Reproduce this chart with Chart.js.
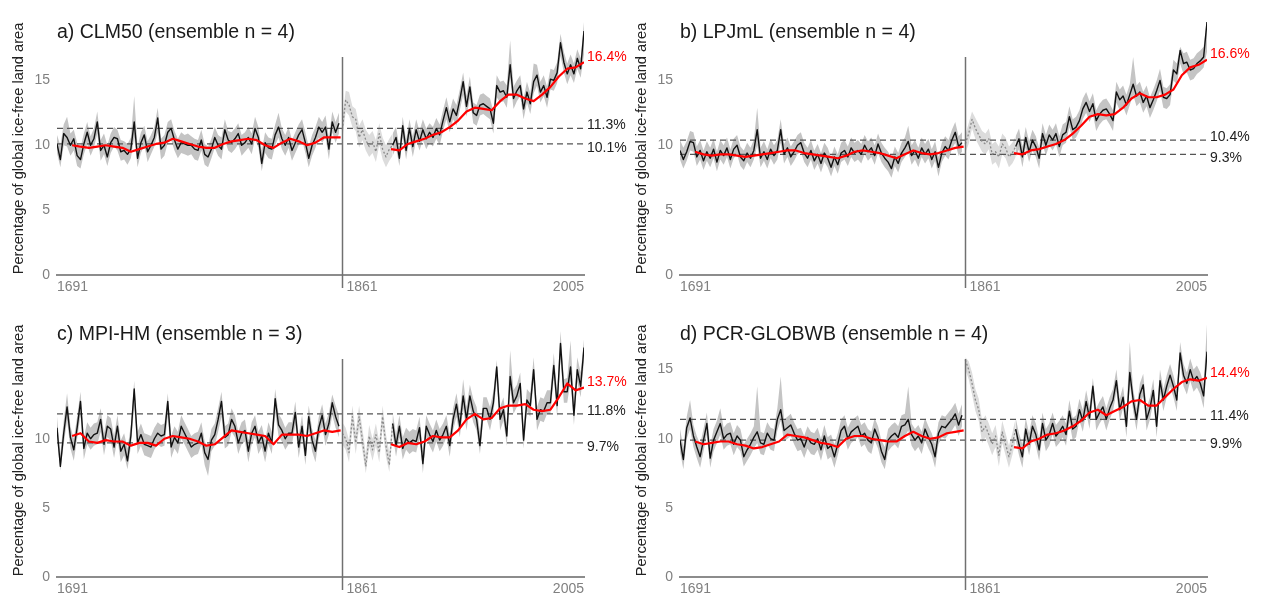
<!DOCTYPE html>
<html>
<head>
<meta charset="utf-8">
<script src="https://cdn.jsdelivr.net/npm/chart.js@4.4.1/dist/chart.umd.min.js"></script>
<style>
  body{margin:0;background:#fff;width:1261px;height:599px;position:relative;overflow:hidden}
  .panel{position:absolute;width:638px;height:300px}
</style>
</head>
<body>
<div class="panel" style="left:0;top:0"><canvas id="pa"></canvas></div>
<div class="panel" style="left:623px;top:0"><canvas id="pb"></canvas></div>
<div class="panel" style="left:0;top:302px"><canvas id="pc"></canvas></div>
<div class="panel" style="left:623px;top:302px"><canvas id="pd"></canvas></div>
<script>
// years: every 2nd year 1691..2005 (idx 0-84 pre-1861, 85-99 spin-up, 100-157 1891-2005)
const YEARS = [];
for (let y = 1691; y <= 2005; y += 2) YEARS.push(y);
const SMOOTH_YEARS_PRE = [];
for (let y = 1700; y <= 1860; y += 5) SMOOTH_YEARS_PRE.push(y);
const SMOOTH_YEARS_POST = [];
for (let y = 1890; y <= 2005; y += 5) SMOOTH_YEARS_POST.push(y);

const X_TICKS = [1691, 1861, 2005];
const TITLES = ['a) CLM50 (ensemble n = 4)', 'b) LPJmL (ensemble n = 4)',
                'c) MPI-HM (ensemble n = 3)', 'd) PCR-GLOBWB (ensemble n = 4)'];
const Y_TITLE = 'Percentage of global ice-free land area';

// ---- a) CLM50
const CLM50_MEAN = [
  10.1,8.9,10.9,10.6,10.0,10.5,9.2,8.9,10.1,11.0, 10.0,10.5,11.8,9.6,10.0,9.1,10.2,10.6,10.5,9.5,
  9.6,9.3,9.7,11.8,9.0,10.2,10.8,9.5,10.0,10.6, 12.1,9.7,10.0,11.0,11.3,10.4,9.7,10.2,10.1,10.0,
  10.0,9.7,9.6,10.4,9.3,9.1,9.7,10.6,10.0,9.7, 11.2,10.4,10.2,10.5,10.9,10.0,10.2,10.6,10.1,11.3,
  10.6,8.6,10.2,9.8,9.7,10.8,11.4,10.5,10.0,10.6, 9.6,10.2,10.8,11.2,10.2,9.0,10.0,10.6,11.4,11.0,
  11.4,9.7,11.8,11.0,11.7,
  11.2,13.5,13.1,12.2,12.0,10.6,11.2,10.4,9.9,10.3,9.5,10.9,9.7,9.1,9.7,
  10.0,10.6,9.0,11.5,9.6,11.3,9.9,11.2,10.3,11.2, 10.5,11.0,10.6,11.3,10.8,11.9,12.9,11.8,12.8,12.3,
  13.5,14.9,13.0,14.5,12.5,12.3,13.1,13.2,13.0,12.8, 11.7,14.6,14.1,14.2,13.7,16.2,13.6,14.2,14.6,12.8,
  14.1,13.2,14.9,15.4,14.1,14.6,13.7,15.1,15.0,15.6, 17.9,16.4,15.5,16.2,15.5,16.7,15.9,18.8
];
const CLM50_MAX = [
  10.8,10.0,11.6,12.2,10.9,11.2,10.2,9.8,10.9,11.8, 10.7,11.3,12.6,10.4,10.9,10.0,10.9,11.4,11.2,10.4,
  10.3,10.1,10.6,13.8,9.9,11.0,11.5,10.3,10.8,11.4, 12.9,10.5,10.8,11.8,12.0,11.1,10.5,11.0,10.8,10.9,
  10.7,10.5,10.4,11.2,10.1,9.9,10.5,11.4,10.8,10.6, 12.0,11.1,11.0,11.3,11.7,10.8,11.0,11.4,10.9,12.2,
  11.4,9.6,11.0,10.6,10.5,11.6,12.5,11.3,10.8,11.4, 10.4,11.0,11.6,12.0,11.0,9.9,10.8,11.4,12.2,11.8,
  12.3,10.6,12.6,11.8,12.5,
  12.0,14.2,14.1,13.0,12.8,11.5,12.0,11.2,10.8,11.1,10.4,11.7,10.6,10.0,10.5,
  10.9,11.4,9.9,12.2,10.4,12.0,10.7,12.0,11.1,12.0, 11.3,11.7,11.4,12.1,11.6,12.7,13.7,12.6,13.6,13.1,
  14.3,15.6,13.8,15.3,13.3,13.1,13.9,14.0,13.8,13.6, 12.6,15.4,14.9,15.0,14.6,18.1,14.5,15.0,15.4,13.6,
  14.9,14.0,16.3,16.2,14.9,15.4,14.5,15.9,15.8,16.4, 18.6,17.2,16.3,17.0,16.3,17.4,16.7,19.5
];
const CLM50_MIN = [
  9.4,8.3,10.0,9.9,9.2,9.6,8.4,8.2,9.3,10.1, 9.2,9.8,10.9,8.8,9.3,8.4,9.4,9.9,9.6,8.8,
  8.9,8.5,9.0,10.6,8.3,9.4,10.0,8.7,9.3,9.9, 11.0,8.9,9.2,10.2,10.4,9.6,9.0,9.4,9.3,9.2,
  9.3,8.9,8.8,9.6,8.5,8.3,9.0,9.8,9.2,8.9, 10.4,9.6,9.4,9.7,10.1,9.2,9.5,9.8,9.3,10.5,
  9.8,8.0,9.4,9.0,8.9,10.0,10.6,9.7,9.2,9.8, 8.8,9.4,10.0,10.4,9.4,8.3,9.2,9.8,10.6,10.2,
  10.6,8.9,11.0,10.2,10.9,
  10.4,12.6,12.3,11.4,11.1,9.8,10.4,9.6,9.1,9.4,8.7,10.0,8.9,8.3,8.8,
  9.2,9.8,8.4,10.6,8.9,10.5,9.1,10.4,9.6,10.4, 9.7,10.2,9.9,10.5,10.0,11.1,12.0,11.0,12.0,11.5,
  12.7,13.9,12.2,13.6,11.7,11.5,12.3,12.4,12.2,12.0, 10.9,13.7,13.3,13.4,12.9,15.2,12.8,13.4,13.8,12.0,
  13.3,12.4,14.0,14.6,13.3,13.8,12.9,14.3,14.2,14.8, 16.9,15.6,14.7,15.4,14.8,15.9,15.2,17.0
];
const CLM50_SMOOTH_PRE = [10.0,9.9,9.8,9.9,10.0,9.9,9.8,9.5,9.7,9.9,10.1,10.2,10.5,10.3,10.1,9.9,9.8,
  9.8,10.1,10.3,10.4,10.5,10.4,10.0,9.8,10.2,10.5,10.3,10.0,10.2,10.6,10.6,10.6];
const CLM50_SMOOTH_POST = [9.7,9.6,10.1,10.3,10.5,10.8,11.0,11.4,11.9,12.6,12.9,12.8,12.7,13.4,13.9,13.9,
  13.6,13.4,13.9,14.5,15.3,15.9,16.0,16.4];
const CLM50_REF = [11.3, 10.1];

// ---- b) LPJmL
const LPJML_MEAN = [
  9.6,8.9,9.5,10.3,10.2,9.1,9.6,8.8,9.5,9.0, 9.7,8.7,9.6,9.2,9.8,8.9,9.7,10.0,9.1,8.8,
  9.4,9.0,9.6,11.2,9.0,9.5,8.9,9.7,9.2,9.6, 11.2,9.3,9.8,9.1,9.5,10.0,10.2,9.4,9.0,9.6,
  8.8,9.3,8.6,9.4,9.0,8.3,9.1,8.5,9.4,9.6, 9.1,9.8,9.4,9.6,9.3,10.0,9.5,9.8,9.2,10.1,
  9.4,9.0,8.7,8.2,9.1,8.6,9.4,9.8,10.3,9.2, 9.6,9.0,9.8,9.3,9.7,8.9,9.5,8.3,9.4,9.9,
  9.6,10.4,11.0,9.9,10.2,
  10.1,10.9,12.0,11.3,10.8,10.3,10.1,10.5,9.3,9.5,9.1,10.1,9.8,9.1,9.4,
  9.9,10.5,9.1,10.6,9.5,10.4,9.9,9.0,10.9,10.0, 10.8,10.4,10.9,9.9,10.8,11.0,12.2,11.2,11.4,11.9,
  12.8,13.3,12.6,13.2,11.9,12.4,12.7,12.8,12.4,11.9, 14.1,13.5,13.8,13.1,13.9,14.7,13.8,14.1,13.3,13.8,
  12.9,13.5,14.2,15.0,13.7,13.6,13.9,15.8,15.5,17.3, 16.3,16.4,15.8,15.9,16.3,16.5,16.8,19.5
];
const LPJML_MAX = [
  10.4,9.8,10.3,11.1,11.0,9.9,10.4,9.6,10.3,9.8, 10.5,9.5,10.4,10.0,10.6,9.7,10.5,10.8,9.9,9.6,
  10.2,9.8,10.4,12.9,9.8,10.3,9.7,10.5,10.0,10.4, 12.0,10.1,10.6,9.9,10.3,10.8,11.0,10.2,9.8,10.4,
  9.6,10.1,9.4,10.2,9.8,9.1,9.9,9.3,10.2,10.4, 9.9,10.6,10.2,10.4,10.1,10.8,10.3,10.6,10.0,10.9,
  10.2,9.8,9.5,9.0,9.9,9.4,10.2,10.6,11.5,10.0, 10.4,9.8,10.6,10.1,10.5,9.7,10.3,9.1,10.2,10.7,
  10.4,11.2,11.8,10.7,11.0,
  10.8,11.7,12.6,12.1,11.6,11.1,10.9,11.3,10.1,10.3,9.9,10.9,10.6,9.9,10.2,
  10.7,11.3,9.9,11.4,10.3,11.2,10.7,9.8,11.7,10.8, 11.6,11.2,11.7,10.7,11.6,11.8,13.0,12.0,12.2,12.7,
  13.6,14.1,13.4,14.0,12.7,13.2,13.5,13.6,13.2,12.7, 14.9,14.3,14.6,13.9,14.7,16.8,14.6,14.9,14.1,14.6,
  13.7,14.3,15.0,15.9,14.5,14.4,14.7,16.6,16.3,17.6, 17.1,17.2,16.6,16.7,17.1,17.3,17.6,19.8
];
const LPJML_MIN = [
  8.9,8.2,8.8,9.6,9.5,8.4,8.9,8.1,8.8,8.3, 9.0,8.0,8.9,8.5,9.1,8.2,9.0,9.3,8.4,8.1,
  8.7,8.3,8.9,10.0,8.3,8.8,8.2,9.0,8.5,8.9, 10.2,8.6,9.1,8.4,8.8,9.3,9.5,8.7,8.3,8.9,
  8.1,8.6,7.9,8.7,8.3,7.6,8.4,7.8,8.7,8.9, 8.4,9.1,8.7,8.9,8.6,9.3,8.8,9.1,8.5,9.4,
  8.7,8.3,8.0,7.5,8.4,7.9,8.7,9.1,9.5,8.5, 8.9,8.3,9.1,8.6,9.0,8.2,8.8,7.6,8.7,9.2,
  8.9,9.7,10.2,9.2,9.5,
  9.4,10.1,11.3,10.5,10.0,9.5,9.3,9.7,8.5,8.7,8.2,9.3,9.0,8.3,8.6,
  9.1,9.7,8.3,9.8,8.7,9.6,9.1,8.2,10.1,9.2, 10.0,9.6,10.1,9.1,10.0,10.2,11.4,10.4,10.6,11.1,
  12.0,12.5,11.8,12.4,11.1,11.6,11.9,12.0,11.6,11.1, 13.3,12.7,13.0,12.3,13.1,13.9,13.0,13.3,12.5,13.0,
  12.1,12.7,13.4,14.2,12.9,12.8,13.1,15.0,14.7,16.3, 15.5,15.6,15.0,15.1,15.5,15.7,16.0,17.2
];
const LPJML_SMOOTH_PRE = [9.5,9.3,9.2,9.3,9.3,9.2,9.1,9.2,9.3,9.4,9.5,9.6,9.6,9.4,9.3,9.2,9.1,
  9.0,9.2,9.5,9.6,9.5,9.4,9.2,9.0,9.3,9.6,9.4,9.3,9.4,9.6,9.8,9.9];
const LPJML_SMOOTH_POST = [9.4,9.3,9.6,9.7,9.9,10.1,10.4,10.9,11.5,12.2,12.4,12.3,12.4,12.9,13.6,14.0,
  13.7,13.7,13.9,14.3,15.4,16.0,16.2,16.6];
const LPJML_REF = [10.4, 9.3];

// ---- c) MPI-HM
const MPIHM_MEAN = [
  10.8,8.0,10.4,12.3,10.1,9.2,10.8,12.7,9.3,10.4, 10.0,10.3,10.4,11.4,9.6,10.9,10.7,9.4,10.9,9.1,
  9.6,8.4,10.2,13.6,9.7,10.3,9.6,9.5,9.4,10.0, 10.4,10.2,10.3,12.7,9.4,10.1,9.7,10.9,10.4,9.9,
  9.4,9.6,9.7,10.4,9.0,8.5,9.9,10.3,11.4,12.7, 10.1,10.3,11.4,10.9,9.7,10.4,10.6,9.1,10.4,10.9,
  9.7,10.2,9.1,10.4,9.7,12.9,11.0,10.6,10.0,10.4, 10.4,11.9,9.4,10.9,8.8,11.6,9.9,9.1,10.8,11.7,
  10.3,11.1,12.6,11.6,10.9,
  10.4,10.0,9.0,11.6,9.7,11.6,9.9,8.0,10.2,9.2,10.3,9.0,11.6,9.5,8.1,
  11.1,9.5,10.9,9.3,10.0,9.7,9.9,9.8,10.8,8.2, 10.9,10.3,9.8,10.6,9.9,10.3,10.9,9.5,11.4,12.5,
  10.9,13.1,11.4,13.1,12.0,11.4,9.5,12.2,12.2,11.4, 12.6,15.2,11.4,12.1,10.2,14.5,12.6,13.1,14.0,9.9,
  12.8,12.4,15.0,11.4,12.1,12.0,12.6,12.6,15.3,12.4, 16.9,13.4,13.4,15.2,11.7,15.0,13.8,16.6
];
const MPIHM_MAX = [
  11.6,8.9,11.3,13.3,10.9,10.0,11.6,13.4,10.1,11.2, 10.8,11.1,11.2,12.2,10.4,11.7,11.5,10.2,11.7,9.9,
  10.4,9.3,11.0,14.2,10.5,11.1,10.4,10.3,10.2,10.8, 11.2,11.0,11.1,13.3,10.2,10.9,10.5,11.7,11.2,10.7,
  10.2,10.4,10.5,11.2,9.8,9.4,10.7,11.1,12.2,13.4, 10.9,11.1,12.2,11.7,10.5,11.2,11.4,9.9,11.2,11.7,
  10.5,11.0,9.9,11.2,10.5,13.6,11.8,11.4,10.8,11.2, 11.2,12.7,10.2,11.7,9.7,12.4,10.7,9.9,11.6,12.5,
  11.1,11.9,13.2,12.4,11.7,
  11.2,10.8,9.9,12.4,10.5,12.4,10.7,8.9,11.0,10.0,11.1,9.8,12.4,10.3,9.0,
  11.9,10.3,11.7,10.1,10.8,10.5,10.7,10.6,11.6,9.1, 11.7,11.1,10.6,11.4,10.7,11.1,11.7,10.3,12.2,13.3,
  11.8,14.3,12.3,13.9,12.9,12.3,10.5,13.0,13.0,12.3, 13.4,15.7,12.3,13.0,11.1,16.4,13.5,13.9,14.8,10.9,
  13.6,13.3,15.9,12.3,13.0,12.9,13.5,13.5,16.2,13.3, 17.8,14.3,14.4,17.1,12.7,15.9,14.8,17.2
];
const MPIHM_MIN = [
  10.0,7.7,9.6,11.3,9.3,8.4,10.0,11.7,8.5,9.6, 9.2,9.5,9.6,10.5,8.8,10.1,9.9,8.6,10.0,8.3,
  8.8,7.8,9.4,12.4,8.9,9.5,8.8,8.7,8.6,9.2, 9.6,9.4,9.5,11.6,8.6,9.3,8.9,10.0,9.6,9.1,
  8.6,8.8,8.9,9.6,8.1,7.3,9.1,9.5,10.5,11.6, 9.3,9.5,10.5,10.1,8.9,9.6,9.8,8.3,9.6,10.1,
  8.9,9.4,8.3,9.6,8.9,11.9,10.2,9.8,9.2,9.6, 9.6,11.0,8.6,10.1,8.1,10.7,9.1,8.3,10.0,10.9,
  9.5,10.3,11.7,10.8,10.1,
  9.6,9.2,8.3,10.8,8.9,10.8,9.1,7.5,9.4,8.4,9.5,8.3,10.8,8.7,7.6,
  10.3,8.7,10.1,8.5,9.2,8.9,9.1,9.0,10.0,7.5, 10.1,9.5,9.0,9.8,9.1,9.5,10.1,8.7,10.6,11.6,
  10.1,12.2,10.6,12.3,11.2,10.6,8.9,11.4,11.4,10.6, 11.8,14.2,10.6,11.3,9.5,13.6,11.8,12.3,13.1,9.3,
  12.0,11.6,14.1,10.6,11.3,11.2,11.8,11.8,14.4,11.6, 15.8,12.6,12.6,14.2,11.0,14.1,13.0,15.6
];
const MPIHM_SMOOTH_PRE = [10.2,10.4,9.8,9.7,9.9,9.8,9.8,9.5,9.7,9.7,9.5,10.0,10.2,10.1,10.0,9.8,9.5,
  9.6,10.1,10.6,10.5,10.4,10.3,10.2,9.6,10.3,10.3,10.3,10.2,10.4,10.6,10.5,10.6];
const MPIHM_SMOOTH_POST = [9.6,9.4,9.7,9.6,9.8,10.2,10.1,10.1,10.6,11.4,11.8,11.4,11.5,12.2,12.4,12.4,
  12.5,12.1,12.0,12.1,13.0,14.0,13.5,13.7];
const MPIHM_REF = [11.8, 9.7];

// ---- d) PCR-GLOBWB
const PCR_MEAN = [
  9.9,8.5,10.8,11.5,10.2,9.4,8.7,9.9,11.1,8.6, 9.9,10.5,11.1,10.0,10.3,10.4,9.6,10.2,9.9,8.7,
  9.2,9.6,10.1,10.5,9.7,9.6,10.4,10.0,9.9,11.4, 12.1,10.6,10.8,11.0,10.4,9.9,10.0,9.4,10.1,9.7,
  9.6,10.0,9.2,10.2,9.3,9.5,8.7,9.6,10.6,10.9, 10.0,10.5,10.7,10.9,10.2,10.4,9.9,9.7,10.7,10.1,
  9.1,8.5,9.9,10.2,10.4,10.1,10.9,11.0,11.4,10.3, 9.9,10.2,9.7,10.7,10.1,9.6,8.7,10.4,10.9,10.8,
  11.1,11.4,11.8,11.0,11.7,
  15.7,15.0,14.0,12.8,12.1,10.5,10.9,10.3,9.6,10.2,8.8,10.5,9.6,8.7,9.6,
  10.7,9.6,8.7,10.7,9.6,10.9,10.3,9.2,11.1,9.9, 10.3,11.1,10.2,10.5,10.9,10.3,12.0,10.7,10.9,12.1,
  11.3,12.7,11.5,13.8,11.4,11.9,12.3,11.4,12.2,12.8, 14.2,12.1,13.0,10.9,14.8,12.8,11.4,13.2,13.9,11.4,
  12.2,13.5,10.9,14.2,12.8,13.8,14.6,13.8,12.8,16.2, 14.6,14.0,15.0,14.2,14.5,14.0,13.1,16.3
];
const PCR_MAX = [
  10.7,9.4,11.6,12.8,11.0,10.2,9.6,10.7,11.9,9.5, 10.7,11.3,12.2,10.8,11.1,11.2,10.4,11.0,10.7,9.6,
  10.0,10.4,10.9,13.8,10.5,10.4,11.2,10.8,10.7,12.2, 14.5,11.4,11.6,11.8,11.2,10.7,10.8,10.2,10.9,10.5,
  10.4,10.8,10.0,11.0,10.1,10.3,9.6,10.4,11.4,11.7, 10.8,11.3,11.5,11.7,11.0,11.2,10.7,10.5,11.5,10.9,
  9.9,9.4,10.7,11.0,11.2,10.9,11.7,11.8,13.8,11.1, 10.7,11.0,10.5,11.5,10.9,10.4,9.6,11.2,11.7,11.6,
  11.9,12.2,12.6,11.8,12.5,
  15.9,15.6,14.8,13.6,12.9,11.3,11.7,11.1,10.4,11.0,9.6,11.3,10.4,9.5,10.4,
  11.5,10.4,9.6,11.5,10.4,11.7,11.1,10.0,11.9,10.7, 11.1,11.9,11.0,11.3,11.7,11.1,12.8,11.5,11.7,12.9,
  12.1,13.5,12.3,14.4,12.2,12.7,13.1,12.2,13.0,13.6, 15.0,12.9,13.8,11.8,17.0,13.6,12.2,14.0,14.7,12.2,
  13.0,14.3,11.8,15.0,13.6,14.6,15.4,14.6,13.6,17.0, 15.4,14.8,15.8,15.0,15.3,14.8,14.0,18.3
];
const PCR_MIN = [
  9.1,7.8,10.0,10.7,9.4,8.6,7.9,9.1,10.3,7.9, 9.1,9.7,10.3,9.2,9.5,9.6,8.8,9.4,9.1,8.0,
  8.4,8.8,9.3,9.7,8.9,8.8,9.6,9.2,9.1,10.6, 11.3,9.8,10.0,10.2,9.6,9.1,9.2,8.6,9.3,8.9,
  8.8,9.2,8.4,9.4,8.5,8.7,7.9,8.8,9.8,10.1, 9.2,9.7,9.9,10.1,9.4,9.6,9.1,8.9,9.9,9.3,
  8.3,7.8,9.1,9.4,9.6,9.3,10.1,10.2,10.6,9.5, 9.1,9.4,8.9,9.9,9.3,8.8,7.9,9.6,10.1,10.0,
  10.3,10.6,11.0,10.2,10.9,
  15.0,14.3,13.2,12.0,11.3,9.7,10.1,9.5,8.8,9.4,8.0,9.7,8.8,7.9,8.8,
  9.9,8.8,7.9,9.9,8.8,10.1,9.5,8.4,10.3,9.1, 9.5,10.3,9.4,9.7,10.1,9.5,11.2,9.9,10.1,11.3,
  10.5,11.9,10.7,13.0,10.6,11.1,11.5,10.6,11.4,12.0, 13.4,11.3,12.2,10.1,14.0,12.0,10.6,12.4,13.1,10.6,
  11.4,12.7,10.1,13.4,12.0,13.0,13.8,13.0,12.0,15.4, 13.8,13.2,14.2,13.4,13.7,13.2,12.2,15.5
];
const PCR_SMOOTH_PRE = [9.8,9.6,9.7,9.8,9.8,9.6,9.5,9.3,9.4,9.6,9.8,10.3,10.2,10.1,9.9,9.7,9.6,
  9.4,10.0,10.2,10.2,10.0,9.9,9.8,9.8,10.2,10.5,10.2,10.0,10.1,10.4,10.5,10.6];
const PCR_SMOOTH_POST = [9.4,9.3,9.8,10.0,10.3,10.4,10.6,10.9,11.3,11.9,12.1,11.7,12.0,12.3,12.7,12.8,
  12.4,12.4,13.0,13.6,14.1,14.3,14.2,14.4];
const PCR_REF = [11.4, 9.9];

const Y_TICKS = [[0,5,10,15],[0,5,10,15],[0,5,10],[0,5,10,15]];
const Y_MAX = [19.5, 19.5, 18.3, 18.3];

// sanity check on array lengths
[['CLM50', CLM50_MEAN, CLM50_MAX, CLM50_MIN, CLM50_SMOOTH_PRE, CLM50_SMOOTH_POST],
 ['LPJML', LPJML_MEAN, LPJML_MAX, LPJML_MIN, LPJML_SMOOTH_PRE, LPJML_SMOOTH_POST],
 ['MPIHM', MPIHM_MEAN, MPIHM_MAX, MPIHM_MIN, MPIHM_SMOOTH_PRE, MPIHM_SMOOTH_POST],
 ['PCR', PCR_MEAN, PCR_MAX, PCR_MIN, PCR_SMOOTH_PRE, PCR_SMOOTH_POST]].forEach(r => {
  const want = [YEARS.length, YEARS.length, YEARS.length, SMOOTH_YEARS_PRE.length, SMOOTH_YEARS_POST.length];
  for (let k = 0; k < 5; k++) if (r[k+1].length !== want[k]) throw new Error(r[0] + ' array ' + k + ' len ' + r[k+1].length + ' != ' + want[k]);
});

const FONT = '"Liberation Sans", Arial, Helvetica, sans-serif';
Chart.defaults.font.family = FONT;
Chart.defaults.animation = false;

const PRE = [0, 84], SPIN = [85, 100], POST = [100, YEARS.length - 1];

function pts(arr, r) {
  const out = [];
  for (let i = r[0]; i <= r[1]; i++) out.push({x: YEARS[i], y: arr[i]});
  return out;
}
function smoothPts(years, arr) { return years.map((y, i) => ({x: y, y: arr[i]})); }

const decor = {
  id: 'decor',
  afterDraw(chart, args, o) {
    const {ctx, chartArea: a, scales: {x, y}} = chart;
    ctx.save();
    const vx = Math.round(x.getPixelForValue(X_TICKS[1])) + 0.5;
    ctx.strokeStyle = '#707070';
    ctx.lineWidth = 1.5;
    ctx.beginPath(); ctx.moveTo(vx, a.top + 35); ctx.lineTo(vx, a.bottom + 13); ctx.stroke();

    ctx.textBaseline = 'middle';
    ctx.textAlign = 'left';
    ctx.fillStyle = '#1a1a1a';
    ctx.font = '19.5px ' + FONT;
    ctx.fillText(o.title, a.left, a.top + 11);

    ctx.font = '14px ' + FONT;
    ctx.fillStyle = '#808080';
    ctx.fillText(String(X_TICKS[0]), x.getPixelForValue(X_TICKS[0]), a.bottom + 12);
    ctx.fillText(String(X_TICKS[1]), vx + 4, a.bottom + 12);
    ctx.textAlign = 'right';
    ctx.fillText(String(X_TICKS[2]), x.getPixelForValue(X_TICKS[2]), a.bottom + 12);

    ctx.textAlign = 'left';
    const lx = a.right + 3;
    ctx.fillStyle = '#ff0000';
    ctx.fillText(o.last.toFixed(1) + '%', lx, y.getPixelForValue(o.last) - 5);
    ctx.fillStyle = '#222';
    ctx.fillText(o.ref[0].toFixed(1) + '%', lx, y.getPixelForValue(o.ref[0]) - 3);
    ctx.fillText(o.ref[1].toFixed(1) + '%', lx, y.getPixelForValue(o.ref[1]) + 4);
    ctx.restore();
  }
};

function makePanel(id, k, mean, max, min, smPre, smPost, ref) {
  const line = (data, color, w, extra) => Object.assign({data, borderColor: color, borderWidth: w,
    pointRadius: 0, fill: false, tension: 0, borderJoinStyle: 'round'}, extra || {});
  const band = (r, col) => [
    line(pts(min, r), 'rgba(0,0,0,0)', 0),
    line(pts(max, r), 'rgba(0,0,0,0)', 0, {fill: '-1', backgroundColor: col})
  ];
  const x0 = YEARS[0], x1 = YEARS[YEARS.length - 1];
  const datasets = [
    line(smoothPts(SMOOTH_YEARS_PRE, smPre), '#ff0000', 2.2),
    line(smoothPts(SMOOTH_YEARS_POST, smPost), '#ff0000', 2.2),
    line(pts(mean, PRE), '#111', 1.4),
    line(pts(mean, POST), '#111', 1.4),
    line(pts(mean, SPIN), '#8a8a8a', 1.3, {borderDash: [2, 2]}),
    line([{x: x0, y: ref[0]}, {x: x1, y: ref[0]}], '#555', 1.2, {borderDash: [6, 4]}),
    line([{x: x0, y: ref[1]}, {x: x1, y: ref[1]}], '#555', 1.2, {borderDash: [6, 4]}),
    ...band(PRE, '#c4c4c4'),
    ...band(SPIN, '#dcdcdc'),
    ...band(POST, '#c4c4c4')
  ];
  new Chart(document.getElementById(id), {
    type: 'line',
    data: {datasets},
    options: {
      responsive: true, maintainAspectRatio: false, devicePixelRatio: 1,
      layout: {padding: {top: 22, right: 54, bottom: 0, left: 0}},
      plugins: {legend: {display: false}, tooltip: {enabled: false},
        decor: {title: TITLES[k], last: smPost[smPost.length - 1], ref}},
      scales: {
        x: {type: 'linear', min: x0, max: x1,
          afterFit(s) { s.height = 25; },
          grid: {display: false, drawTicks: false},
          border: {display: true, color: '#8c8c8c', width: 2},
          ticks: {display: false}},
        y: {min: 0, max: Y_MAX[k],
          afterFit(s) { s.width = 57; },
          afterBuildTicks(s) { s.ticks = Y_TICKS[k].map(v => ({value: v})); },
          grid: {display: false, drawTicks: false},
          border: {display: false},
          ticks: {color: '#808080', font: {size: 14}, padding: 7},
          title: {display: true, text: Y_TITLE, color: '#222', font: {size: 14.6}, padding: {top: 10, bottom: 0}}}
      }
    },
    plugins: [decor]
  });
}

makePanel('pa', 0, CLM50_MEAN, CLM50_MAX, CLM50_MIN, CLM50_SMOOTH_PRE, CLM50_SMOOTH_POST, CLM50_REF);
makePanel('pb', 1, LPJML_MEAN, LPJML_MAX, LPJML_MIN, LPJML_SMOOTH_PRE, LPJML_SMOOTH_POST, LPJML_REF);
makePanel('pc', 2, MPIHM_MEAN, MPIHM_MAX, MPIHM_MIN, MPIHM_SMOOTH_PRE, MPIHM_SMOOTH_POST, MPIHM_REF);
makePanel('pd', 3, PCR_MEAN, PCR_MAX, PCR_MIN, PCR_SMOOTH_PRE, PCR_SMOOTH_POST, PCR_REF);
</script>
</body>
</html>
